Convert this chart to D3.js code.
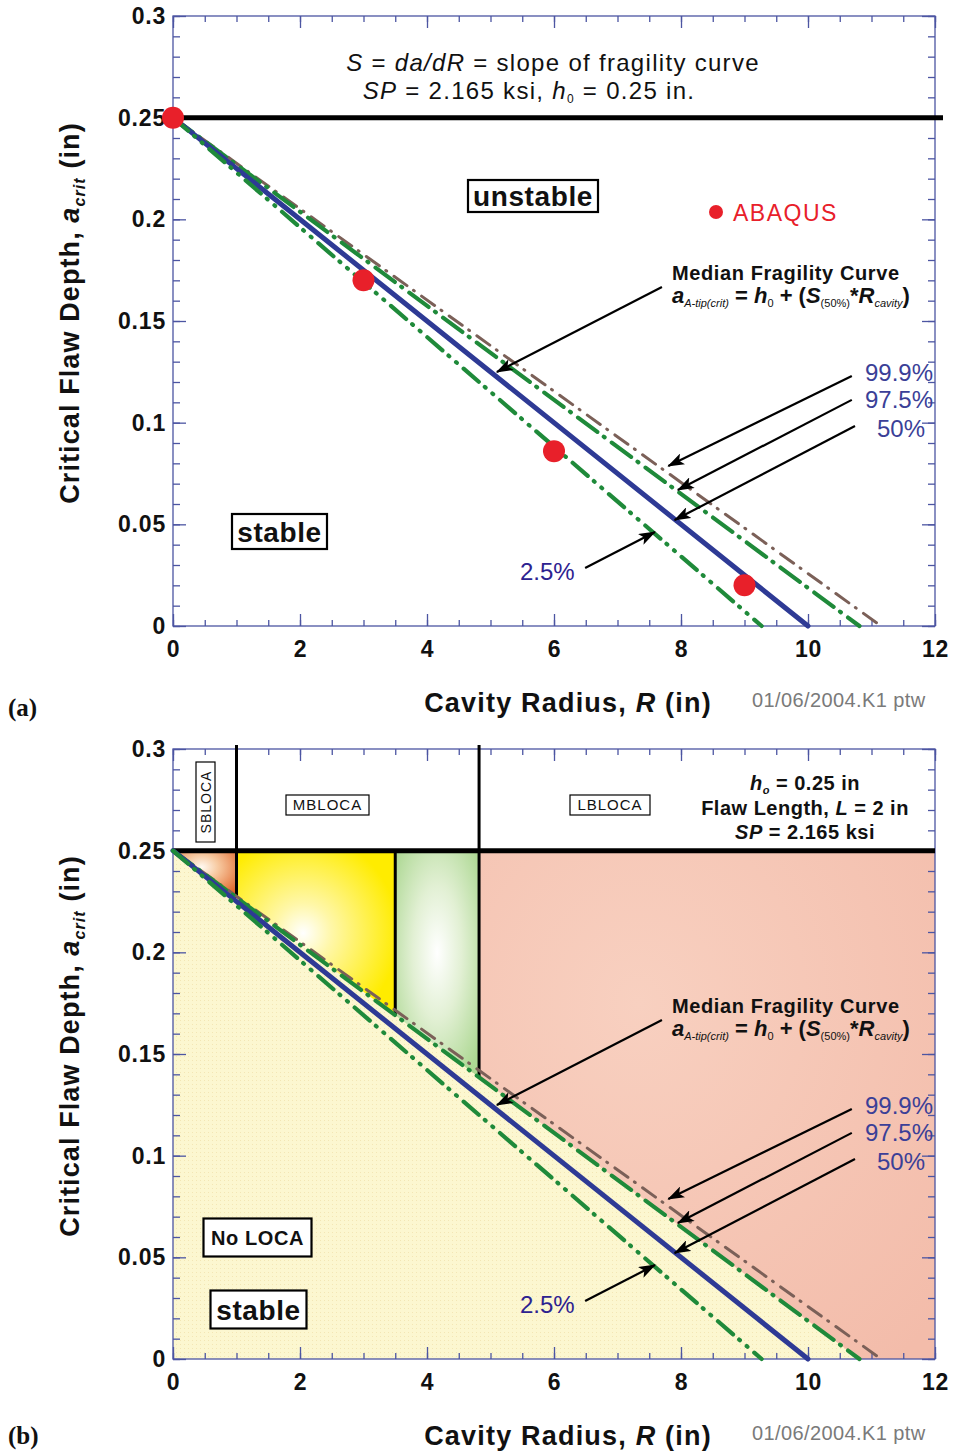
<!DOCTYPE html>
<html><head><meta charset="utf-8">
<script src="https://cdn.jsdelivr.net/npm/d3@7"></script>
<style>
body{margin:0;background:#fff;}
svg{display:block;font-family:"Liberation Sans",Arial,sans-serif;}
</style></head>
<body><svg id="c" width="953" height="1454"></svg>
<script>
// ---------------- data ----------------
const xDomain = [0, 12];
const yDomain = [0, 0.3];
const xMajorTicks = [0, 2, 4, 6, 8, 10, 12];
const yMajorTicks = [0, 0.05, 0.1, 0.15, 0.2, 0.25, 0.3];
const h0 = 0.25;
// fragility curves (R, a)
const r999 = [0, 11.15], a999 = [0.25, 0];
const r975 = [0, 10.81], a975 = [0.25, 0];
const r500 = [0, 10.0],  a500 = [0.25, 0];
const r025 = [0, 9.27],  a025 = [0.25, 0];
// ABAQUS points
const abaqusR = [0, 3, 6, 9];
const abaqusA = [0.25, 0.17, 0.086, 0.02];
// LOCA region boundaries in R
const locaBounds = [0, 1, 3.5, 4.82, 12];
const curveLabels = ["99.9%", "97.5%", "50%", "2.5%"];

// ---------------- setup ----------------
const svg = d3.select("#c");
const FRAME = "#4c55a2";
const FONT = "Liberation Sans, Arial, sans-serif";
const defs = svg.append("defs");
defs.append("marker").attr("id","ah").attr("markerUnits","userSpaceOnUse")
  .attr("markerWidth",18).attr("markerHeight",12).attr("refX",16).attr("refY",6)
  .attr("orient","auto")
  .append("path").attr("d","M0,0 L17,6 L0,12 L4,6 Z").attr("fill","#000");

function radial(id, cx, cy, r, stops){
  const g = defs.append("radialGradient").attr("id",id)
    .attr("cx",cx).attr("cy",cy).attr("r",r);
  stops.forEach(s=>g.append("stop").attr("offset",s[0]).attr("stop-color",s[1]));
}
radial("gOrange","0.45","0.35","0.75",[[0,"#fffaf2"],[0.35,"#f7c9a0"],[1,"#df5f22"]]);
radial("gYellow","0.42","0.5","0.6",[[0,"#ffffff"],[0.3,"#fff7a8"],[1,"#ffec00"]]);
radial("gGreen","0.5","0.45","0.65",[[0,"#ffffff"],[0.45,"#e2f0d4"],[1,"#add893"]]);
radial("gPink","0.35","0.3","0.9",[[0,"#f8d0c0"],[1,"#f3bcaa"]]);
const dotPat = defs.append("pattern").attr("id","dots").attr("width",4).attr("height",4)
  .attr("patternUnits","userSpaceOnUse");
dotPat.append("rect").attr("width",4).attr("height",4).attr("fill","#fcf7d0");
dotPat.append("rect").attr("width",1).attr("height",1).attr("fill","#f3e6b4");

const curves = [
  {r:r999, a:a999, color:"#7b6058", w:3,   dash:"16,8,1,9"},
  {r:r975, a:a975, color:"#1f8a3a", w:4.2, dash:"24,8,1,9"},
  {r:r500, a:a500, color:"#2e3a95", w:5,   dash:null},
  {r:r025, a:a025, color:"#1f8a3a", w:4.2, dash:"20,8,1,9,1,9"}
];

function panel(top, isB){
  const x = d3.scaleLinear().domain(xDomain).range([173, 935]);
  const y = d3.scaleLinear().domain(yDomain).range([top + 610, top]);
  const g = svg.append("g");
  const clipId = "clip" + (isB ? "b" : "a");
  defs.append("clipPath").attr("id", clipId).append("rect")
    .attr("x", 173).attr("y", top).attr("width", 762).attr("height", 610);

  const line975 = d3.scaleLinear().domain(r975).range(a975).clamp(true);

  if (isB){
    g.append("rect").attr("x",x(0)).attr("y",y(h0)).attr("width",x(12)-x(0))
      .attr("height",y(0)-y(h0)).attr("fill","url(#dots)");
    const fills = ["url(#gOrange)","url(#gYellow)","url(#gGreen)","url(#gPink)"];
    for (let i = 0; i < 4; i++){
      const x0 = locaBounds[i], x1 = locaBounds[i+1];
      const pts = [[x0,h0],[x1,h0]];
      const bottomXs = [x1];
      if (r975[1] > x0 && r975[1] < x1) bottomXs.push(r975[1]);
      bottomXs.push(x0);
      bottomXs.forEach(v => pts.push([v, line975(v)]));
      g.append("path").attr("clip-path",`url(#${clipId})`)
        .attr("d", d3.line().x(d=>x(d[0])).y(d=>y(d[1]))(pts) + "Z")
        .attr("fill", fills[i]);
    }
  }

  g.append("rect").attr("x",x(0)).attr("y",y(0.3)).attr("width",x(12)-x(0))
    .attr("height",y(0)-y(0.3)).attr("fill","none").attr("stroke",FRAME).attr("stroke-width",1.3);

  const xMinor = d3.range(0, 24.5).map(i => i / 2);
  const yMinor = d3.range(0, 31).map(i => i / 100);
  const styleAxis = sel => { sel.select(".domain").remove(); sel.selectAll("line").attr("stroke",FRAME).attr("stroke-width",1.3); };
  const styleLabels = sel => sel.selectAll("text").attr("font-size",23).attr("font-weight","bold")
      .attr("fill","#111").attr("letter-spacing",0.8).attr("font-family",FONT);
  g.append("g").attr("transform",`translate(0,${y(0)})`)
    .call(d3.axisBottom(x).tickValues(xMinor).tickSize(-6).tickFormat("")).call(styleAxis);
  g.append("g").attr("transform",`translate(0,${y(0.3)})`)
    .call(d3.axisTop(x).tickValues(xMinor).tickSize(-6).tickFormat("")).call(styleAxis);
  g.append("g").attr("transform",`translate(0,${y(0)})`)
    .call(d3.axisBottom(x).tickValues(xMajorTicks).tickSize(-12).tickPadding(15).tickFormat(d=>String(d)))
    .call(styleAxis).call(styleLabels);
  g.append("g").attr("transform",`translate(0,${y(0.3)})`)
    .call(d3.axisTop(x).tickValues(xMajorTicks).tickSize(-12).tickFormat("")).call(styleAxis);
  g.append("g").attr("transform",`translate(${x(0)},0)`)
    .call(d3.axisLeft(y).tickValues(yMinor).tickSize(-7).tickFormat("")).call(styleAxis);
  g.append("g").attr("transform",`translate(${x(12)},0)`)
    .call(d3.axisRight(y).tickValues(yMinor).tickSize(-7).tickFormat("")).call(styleAxis);
  g.append("g").attr("transform",`translate(${x(0)},0)`)
    .call(d3.axisLeft(y).tickValues(yMajorTicks).tickSize(-13).tickPadding(7).tickFormat(d=>String(d)))
    .call(styleAxis).call(styleLabels);
  g.append("g").attr("transform",`translate(${x(12)},0)`)
    .call(d3.axisRight(y).tickValues(yMajorTicks).tickSize(-13).tickFormat("")).call(styleAxis);

  g.append("line").attr("x1",x(0)).attr("x2",isB ? x(12) : x(12)+8)
    .attr("y1",y(h0)).attr("y2",y(h0)).attr("stroke","#000").attr("stroke-width",5);

  if (isB){
    [[locaBounds[1], 0.3], [locaBounds[2], h0], [locaBounds[3], 0.3]].forEach(([bx, ta]) => {
      g.append("line").attr("x1",x(bx)).attr("x2",x(bx))
        .attr("y1", ta === 0.3 ? y(ta) - 4 : y(ta)).attr("y2", y(line975(bx)))
        .attr("stroke","#000").attr("stroke-width",3);
    });
  }

  const ln = d3.line().x(d=>x(d[0])).y(d=>y(d[1]));
  curves.forEach(c => {
    const pts = c.r.map((rv,i)=>[rv, c.a[i]]);
    g.append("path").attr("d", ln(pts)).attr("fill","none").attr("stroke",c.color)
      .attr("stroke-width",c.w).attr("stroke-linecap","round")
      .attr("stroke-dasharray", c.dash);
  });

  if (!isB){
    g.selectAll(".abq").data(abaqusR).join("circle")
      .attr("cx",(d)=>x(d)).attr("cy",(d,i)=>y(abaqusA[i])).attr("r",11).attr("fill","#e8202a");
    g.append("circle").attr("cx",716).attr("cy",top+196).attr("r",7).attr("fill","#e8202a");
    g.append("text").attr("x",733).attr("y",top+205).attr("font-size",23).attr("fill","#e8202a")
      .attr("letter-spacing",1.5).text("ABAQUS");
  }

  const arrows = [
    [7.70, 0.1667, 5.10, 0.1249],
    [10.69, 0.1230, 7.80, 0.0787],
    [10.69, 0.1112, 7.95, 0.0669],
    [10.74, 0.0984, 7.90, 0.0521],
    [6.49, 0.0285, 7.59, 0.0462]
  ];
  arrows.forEach(a => {
    g.append("line").attr("x1",x(a[0])).attr("y1",y(a[1])).attr("x2",x(a[2])).attr("y2",y(a[3]))
      .attr("stroke","#000").attr("stroke-width",2.2).attr("marker-end","url(#ah)");
  });

  const pl = [[curveLabels[0], 933, 381, "end", "#3b3f97"],
              [curveLabels[1], 933, 408, "end", "#3b3f97"],
              [curveLabels[2], 925, 437, "end", "#3b3f97"],
              [curveLabels[3], 520, 580, "start", "#2d2290"]];
  pl.forEach(p => g.append("text").attr("x",p[1]).attr("y",p[2]-16+top).attr("text-anchor",p[3])
    .attr("font-size",24).attr("fill",p[4]).text(p[0]));

  g.append("text").attr("x",672).attr("y",top+264).attr("font-size",20).attr("font-weight","bold")
    .attr("letter-spacing",0.6).attr("fill","#111").text("Median Fragility Curve");
  const ft = g.append("text").attr("x",672).attr("y",top+287).attr("font-size",22).attr("font-weight","bold").attr("fill","#111");
  const part = (t, o={}) => {
    const s = ft.append("tspan").text(t);
    if (o.it) s.attr("font-style","italic");
    if (o.sub){ s.attr("font-size",11).attr("font-weight","normal").attr("dy",4); }
    if (o.up) s.attr("dy",-4);
    return s;
  };
  part("a",{it:1}); part("A-tip(crit)",{sub:1,it:1}); part(" = ",{up:1}); part("h",{it:1});
  part("0",{sub:1}); part(" + (",{up:1}); part("S",{it:1}); part("(50%)",{sub:1});
  part("*",{up:1}); part("R",{it:1}); part("cavity",{sub:1,it:1}); part(")",{up:1});

  const yt = g.append("text").attr("transform",`translate(79,${top+297}) rotate(-90)`)
    .attr("text-anchor","middle").attr("font-size",27).attr("font-weight","bold")
    .attr("letter-spacing",1.1).attr("fill","#111");
  yt.append("tspan").text("Critical Flaw Depth, ");
  yt.append("tspan").attr("font-style","italic").text("a");
  yt.append("tspan").attr("font-style","italic").attr("font-size",16).attr("dy",6).text("crit");
  yt.append("tspan").attr("dy",-6).text(" (in)");

  const xt = g.append("text").attr("x",568).attr("y",top+696).attr("text-anchor","middle")
    .attr("font-size",27).attr("font-weight","bold").attr("letter-spacing",1.2).attr("fill","#111");
  xt.append("tspan").text("Cavity Radius, ");
  xt.append("tspan").attr("font-style","italic").text("R");
  xt.append("tspan").text(" (in)");

  g.append("text").attr("x",752).attr("y",top+691).attr("font-size",20).attr("fill","#7a7a7a")
    .attr("letter-spacing",0.4).text("01/06/2004.K1 ptw");
  g.append("text").attr("x",8).attr("y",isB ? top+695 : top+700).attr("font-size",25).attr("font-weight","bold")
    .attr("font-family","Liberation Serif, Times New Roman, serif").attr("fill","#111")
    .text(isB ? "(b)" : "(a)");

  function boxed(cx, cy, w, h, txt, fs, rot){
    const bg = g.append("g").attr("transform",`translate(${cx},${cy})` + (rot ? " rotate(-90)" : ""));
    bg.append("rect").attr("x",-w/2).attr("y",-h/2).attr("width",w).attr("height",h)
      .attr("fill","#fff").attr("stroke","#000").attr("stroke-width", fs > 18 ? 2.2 : 1.2);
    bg.append("text").attr("text-anchor","middle").attr("dy","0.36em").attr("font-size",fs)
      .attr("font-weight", fs > 18 ? "bold" : "normal").attr("letter-spacing", fs > 18 ? 0.6 : 1)
      .attr("fill","#111").text(txt);
  }

  if (!isB){
    const t1 = g.append("text").attr("x",553).attr("y",top+55).attr("text-anchor","middle")
      .attr("font-size",24).attr("letter-spacing",1.3).attr("fill","#111");
    t1.append("tspan").attr("font-style","italic").text("S");
    t1.append("tspan").text(" = ");
    t1.append("tspan").attr("font-style","italic").text("da/dR");
    t1.append("tspan").text(" = slope of fragility curve");
    const t2 = g.append("text").attr("x",529).attr("y",top+83).attr("text-anchor","middle")
      .attr("font-size",24).attr("letter-spacing",1.3).attr("fill","#111");
    t2.append("tspan").attr("font-style","italic").text("SP");
    t2.append("tspan").text(" = 2.165 ksi, ");
    t2.append("tspan").attr("font-style","italic").text("h");
    t2.append("tspan").attr("font-size",12).attr("dy",4).text("0");
    t2.append("tspan").attr("dy",-4).text(" = 0.25 in.");
    boxed(533, top+180, 130, 32, "unstable", 28);
    boxed(279.5, top+515.5, 95, 35, "stable", 28);
  } else {
    boxed(205.5, top+53, 80, 19, "SBLOCA", 14, true);
    boxed(327.5, top+56, 83, 20, "MBLOCA", 15);
    boxed(610, top+56, 80, 20, "LBLOCA", 15);
    const tb = (yy) => g.append("text").attr("x",805).attr("y",top+yy).attr("text-anchor","middle")
      .attr("font-size",20).attr("font-weight","bold").attr("letter-spacing",0.5).attr("fill","#111");
    const l1 = tb(41);
    l1.append("tspan").attr("font-style","italic").text("h");
    l1.append("tspan").attr("font-size",11).attr("font-style","italic").attr("dy",4).text("o");
    l1.append("tspan").attr("dy",-4).text(" = 0.25 in");
    const l2 = tb(66);
    l2.append("tspan").text("Flaw Length, ");
    l2.append("tspan").attr("font-style","italic").text("L");
    l2.append("tspan").text(" = 2 in");
    const l3 = tb(90);
    l3.append("tspan").attr("font-style","italic").text("SP");
    l3.append("tspan").text(" = 2.165 ksi");
    boxed(257.5, top+488.5, 108, 38, "No LOCA", 20);
    boxed(258.5, top+560.5, 96, 38, "stable", 28);
  }
}

panel(16, false);
panel(749, true);
</script></body></html>
